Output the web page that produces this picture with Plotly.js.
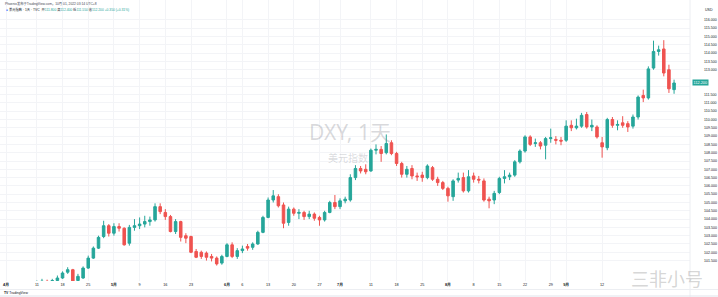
<!DOCTYPE html>
<html>
<head>
<meta charset="utf-8">
<script src="https://cdn.plot.ly/plotly-3.0.1.min.js"></script>
<style>
html,body{margin:0;padding:0;background:#fff;}
#chart{width:718px;height:297px;}
</style>
</head>
<body>
<div id="chart"></div>
<script>
// DXY daily candles, 2022-04-01 .. 2022-09-30 (one entry per trading day)
const openP = [
 98.30, 98.60, 99.00, 99.50, 99.60, 99.80, 99.80,100.20,100.25,100.20,
100.30,100.45,100.80,100.95,100.30,100.45,101.05,101.65,102.25,102.95,
103.60,103.15,103.55,103.45,102.55,103.50,103.60,103.70,103.85,103.95,
104.75,104.40,104.15,103.25,103.85,103.00,102.95,102.05,102.00,101.95,
101.75,101.65,101.35,101.75,102.45,101.75,102.10,102.35,102.30,102.50,
103.20,104.10,105.15,105.35,104.85,103.80,104.60,104.35,104.40,104.15,
104.30,104.10,103.95,104.40,105.00,104.75,105.10,105.15,106.50,107.05,
107.00,106.90,108.15,108.20,108.00,108.60,107.95,107.35,106.70,107.05,
106.60,106.65,106.50,107.10,106.40,106.20,105.85,105.35,106.35,106.50,
105.70,106.60,106.40,106.30,105.20,105.15,105.60,106.45,106.55,106.65,
107.45,108.10,108.95,108.55,108.60,108.45,108.85,108.80,108.75,108.75,
109.65,109.50,109.60,110.30,109.55,109.55,108.60,108.30,110.00,109.65,
109.80,109.75,109.60,110.15,111.45,111.30,113.10,114.10,114.25,113.00,
111.80];
const highP = [
 98.80, 99.10, 99.60, 99.80, 99.90,100.00,100.30,100.40,100.35,100.40,
100.60,100.85,101.10,101.00,100.70,101.15,101.80,102.35,103.00,103.90,
103.70,103.75,103.75,103.50,103.65,104.00,104.10,104.20,104.15,104.95,
104.95,104.60,104.25,104.00,103.90,103.15,103.00,102.20,102.10,102.05,
101.90,101.75,101.85,102.55,102.60,102.25,102.40,102.50,102.60,103.30,
104.20,105.30,105.75,105.50,105.00,104.75,104.70,104.60,104.50,104.50,
104.40,104.20,104.50,105.10,105.45,105.25,105.35,106.70,107.25,107.20,
107.30,108.25,108.50,108.40,109.10,108.75,108.05,107.45,107.20,107.25,
106.80,106.85,107.30,107.20,106.55,106.30,105.95,106.40,106.80,106.80,
106.95,106.80,106.60,106.45,105.35,105.70,106.55,106.95,106.80,107.55,
108.20,109.05,109.05,108.85,108.70,108.95,109.45,109.00,108.95,109.95,
109.95,110.05,110.40,110.45,110.00,109.65,108.95,110.10,110.15,109.95,
110.20,109.90,110.30,111.45,111.80,113.20,114.75,114.45,114.78,113.30,
112.40];
const lowP = [
 98.20, 98.50, 98.90, 99.30, 99.50, 99.60, 99.70, 99.90,100.00,100.10,
100.20,100.40,100.70,100.15,100.20,100.40,101.00,101.60,102.20,102.85,
102.95,103.00,103.25,102.40,102.40,103.30,103.40,103.50,103.60,103.85,
104.30,103.95,103.20,103.10,102.65,102.55,101.95,101.65,101.60,101.50,
101.45,101.20,101.25,101.70,101.65,101.60,101.95,102.10,102.15,102.45,
103.15,104.05,105.00,104.70,103.45,103.60,104.20,104.00,103.95,104.00,
103.90,103.60,103.85,104.35,104.60,104.60,104.95,105.05,106.35,106.75,
106.70,106.85,107.90,107.45,107.90,107.85,107.20,106.50,106.50,106.40,
106.30,106.25,106.40,106.30,106.00,105.75,105.05,105.10,106.20,105.60,
105.60,106.20,106.15,105.05,104.65,104.90,105.50,106.15,106.35,106.55,
107.35,108.00,108.40,108.35,108.20,107.60,108.60,108.50,108.45,108.65,
109.30,109.40,109.50,109.45,109.30,108.85,107.70,108.15,109.50,109.35,
109.50,109.25,109.45,110.00,111.05,111.20,113.00,113.85,112.60,111.60,
111.55];
const closeP = [
 98.60, 99.00, 99.50, 99.60, 99.80, 99.80,100.20,100.25,100.20,100.30,
100.45,100.75,100.95,100.25,100.55,101.05,101.65,102.25,102.90,103.60,
103.15,103.55,103.45,102.45,103.50,103.60,103.70,103.85,103.95,104.75,
104.45,104.15,103.25,103.85,102.90,102.85,102.00,101.70,101.75,101.70,
101.65,101.30,101.75,102.45,101.75,102.10,102.20,102.25,102.50,103.20,
104.10,105.15,105.40,104.80,103.75,104.60,104.35,104.40,104.15,104.30,
104.05,103.95,104.40,105.00,104.75,105.10,105.20,106.50,107.05,106.90,
106.85,108.15,108.20,107.95,108.55,107.95,107.35,106.70,107.00,106.60,
106.55,106.50,107.20,106.40,106.20,105.85,105.40,106.30,106.45,105.70,
106.55,106.40,106.35,105.15,105.10,105.55,106.45,106.55,106.65,107.45,
108.10,108.95,108.50,108.60,108.40,108.85,108.90,108.75,108.70,109.60,
109.50,109.60,110.25,109.55,109.65,108.95,108.35,110.00,109.65,109.70,
109.65,109.55,110.15,111.35,111.30,113.05,114.10,114.20,112.80,111.85,
112.20];

// time-axis labels (bar index -> label)
const xTickIdx  = [0, 6, 11, 16, 21, 26, 31, 36, 43, 46, 51, 56, 61, 65, 71, 76, 81, 86, 91, 96, 101, 106, 109, 116];
const xTickText = ["4月","11","18","25","5月","9","16","23","6月","6","13","20","27","7月","11","18","25","8月","8","15","22","29","9月","12"];
const xMonthLabels = ["4月","5月","6月","7月","8月","9月"];

// price-axis labels
const yTickVals = [101.5,102.0,102.5,103.0,103.5,104.0,104.5,105.0,105.5,106.0,106.5,107.0,107.5,108.0,108.5,
                   109.0,109.5,110.0,110.5,111.0,111.5,112.0,112.5,113.0,113.5,114.0,114.5,115.0,115.5,116.0];

const UP = '#26a69a', DOWN = '#ef5350';
const barIdx = closeP.map((_, i) => i);
const lastClose = closeP[closeP.length - 1];
const prevClose = closeP[closeP.length - 2];
const chg = lastClose - prevClose;

const trace = {
  type: 'candlestick',
  x: barIdx, open: openP, high: highP, low: lowP, close: closeP,
  increasing: {line: {color: UP, width: 1}, fillcolor: UP},
  decreasing: {line: {color: DOWN, width: 1}, fillcolor: DOWN},
  whiskerwidth: 0,
  hoverinfo: 'skip',
  showlegend: false
};

const FONT = '"Liberation Sans", Arial, "Noto Sans CJK SC", sans-serif';
const txt = '#131722';
const P = (Y) => (281 - Y) / 281; // pixel row -> paper y

const layout = {
  width: 718, height: 297,
  margin: {l: 0, r: 28, t: 0, b: 16, pad: 0},
  paper_bgcolor: '#ffffff', plot_bgcolor: '#ffffff',
  font: {family: FONT, color: txt, size: 4},
  showlegend: false,
  xaxis: {
    range: [-1.17, 133.1],
    tickmode: 'array', tickvals: xTickIdx,
    ticktext: xTickText.map(t => xMonthLabels.includes(t) ? '<b>' + t + '</b>' : t),
    tickfont: {size: 3.8, color: txt, family: FONT},
    showgrid: true, gridcolor: '#f3f4f7', gridwidth: 1,
    zeroline: false, showline: false, ticks: '',
    rangeslider: {visible: false}, fixedrange: true
  },
  yaxis: {
    side: 'right',
    range: [100.27, 117.2],
    tickmode: 'array', tickvals: yTickVals,
    ticktext: yTickVals.map(v => Math.abs(v - lastClose) < 0.3 ? '' : v.toFixed(3)),
    tickfont: {size: 3.6, color: txt, family: FONT},
    ticklabelstandoff: 13,
    showgrid: true, gridcolor: '#f3f4f7', gridwidth: 1,
    zeroline: false, showline: false, ticks: '', fixedrange: true
  },
  shapes: [
    {type: 'line', xref: 'paper', yref: 'paper', x0: 1, x1: 1, y0: P(0), y1: P(297), line: {color: '#eceef2', width: 1}},
    {type: 'line', xref: 'paper', yref: 'paper', x0: 0, x1: 718/690, y0: P(289.5), y1: P(289.5), line: {color: '#eceef2', width: 1}},
    {type: 'line', xref: 'paper', yref: 'paper', x0: 0, x1: 718/690, y0: P(296), y1: P(296), line: {color: '#e0e3eb', width: 1}}
  ],
  annotations: [
    // watermark
    {xref: 'paper', yref: 'paper', x: 350/690, y: P(132), xanchor: 'center', yanchor: 'middle', showarrow: false,
     text: 'DXY, 1天', font: {family: '"Noto Sans", "Noto Sans CJK SC", sans-serif', size: 21, color: 'rgba(120,123,134,0.28)'}},
    {xref: 'paper', yref: 'paper', x: 348/690, y: P(157), xanchor: 'center', yanchor: 'middle', showarrow: false,
     text: '美元指数', font: {family: '"Noto Sans CJK SC", sans-serif', size: 10, color: 'rgba(120,123,134,0.28)'}},
    // header
    {xref: 'paper', yref: 'paper', x: 3/690, y: P(4), xanchor: 'left', yanchor: 'middle', showarrow: false,
     text: 'Phoenix发布于TradingView.com，10月 01, 2022 03:14 UTC+8', font: {size: 3.3, color: '#434651'}},
    {xref: 'paper', yref: 'paper', x: 4/690, y: P(10), xanchor: 'left', yanchor: 'middle', showarrow: false,
     text: '<span style="color:#2962ff">●</span> 美元指数 · 1天 · TVC  ' +
           '开<span style="color:' + UP + '">' + openP[openP.length-1].toFixed(3) + '</span> ' +
           '高<span style="color:' + UP + '">' + highP[highP.length-1].toFixed(3) + '</span> ' +
           '低<span style="color:' + UP + '">' + lowP[lowP.length-1].toFixed(3) + '</span> ' +
           '收<span style="color:' + UP + '">' + lastClose.toFixed(3) + '</span> ' +
           '<span style="color:' + UP + '">+' + chg.toFixed(3) + ' (+' + (chg / prevClose * 100).toFixed(2) + '%)</span>',
     font: {size: 3.3, color: txt}},
    // currency label
    {xref: 'paper', yref: 'paper', x: 709/690, y: P(10), xanchor: 'center', yanchor: 'middle', showarrow: false,
     text: 'USD', font: {size: 3.6, color: txt}},
    // last price tag
    {xref: 'paper', yref: 'y', x: 1, y: lastClose, xanchor: 'left', yanchor: 'middle', xshift: 2, showarrow: false,
     text: lastClose.toFixed(3), bgcolor: UP, borderpad: 0.6, font: {size: 3.8, color: '#ffffff'}},
    // TradingView logo
    {xref: 'paper', yref: 'paper', x: 2/690, y: P(293), xanchor: 'left', yanchor: 'middle', showarrow: false,
     text: '<b>TV</b> TradingView', font: {size: 3.4, color: txt}},
    // bottom-right site logo
    {xref: 'paper', yref: 'paper', x: 667/690, y: P(278), xanchor: 'center', yanchor: 'middle', showarrow: false,
     text: '三非小号', font: {family: '"Noto Sans CJK SC", sans-serif', size: 18, color: 'rgba(150,150,150,0.4)'}}
  ]
};

Plotly.newPlot('chart', [trace], layout, {displayModeBar: false, staticPlot: true});
</script>
</body>
</html>
